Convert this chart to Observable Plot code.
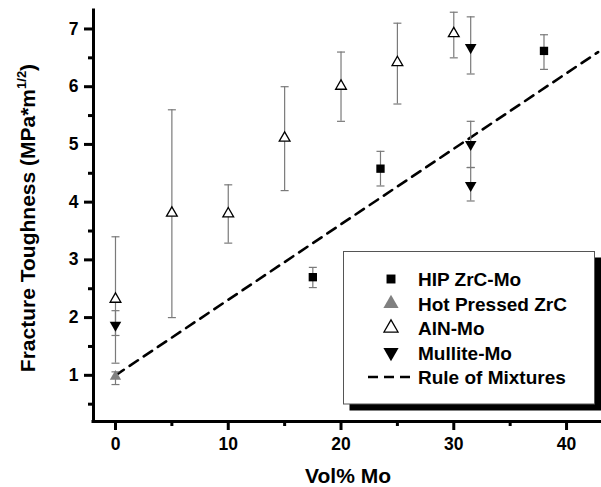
<!DOCTYPE html>
<html>
<head>
<meta charset="utf-8">
<script src="https://cdn.jsdelivr.net/npm/d3@7"></script>
<script src="https://cdn.jsdelivr.net/npm/@observablehq/plot@0.6"></script>
<style>
  html, body { margin: 0; padding: 0; background: white; }
  #chart { width: 601px; height: 487px; }
</style>
</head>
<body>
<div id="chart"></div>
<script>
// ---- data ----
const xTicks = [0, 10, 20, 30, 40];
const xMinor = [5, 15, 25, 35];
const yTicks = [1, 2, 3, 4, 5, 6, 7];
const yMinor = [0.5, 1.5, 2.5, 3.5, 4.5, 5.5, 6.5];

const hipX  = [17.5, 23.5, 38];
const hipY  = [2.70, 4.58, 6.62];
const hipLo = [2.52, 4.28, 6.30];
const hipHi = [2.87, 4.88, 6.90];

const hpX  = [0];
const hpY  = [0.98];
const hpLo = [0.84];
const hpHi = [1.06];

const alnX  = [0, 5, 10, 15, 20, 25, 30];
const alnY  = [2.32, 3.81, 3.80, 5.11, 6.01, 6.42, 6.92];
const alnLo = [1.21, 2.00, 3.29, 4.20, 5.40, 5.70, 6.50];
const alnHi = [3.40, 5.60, 4.30, 6.00, 6.60, 7.10, 7.29];

const mulX  = [0, 31.5, 31.5, 31.5];
const mulY  = [1.87, 6.68, 5.00, 4.29];
const mulLo = [1.69, 6.22, 4.60, 4.02];
const mulHi = [2.12, 7.21, 5.40, 4.60];

const romX = [0, 42.8];
const romY = [1.0, 6.6];

const legendLabels = ["HIP ZrC-Mo", "Hot Pressed ZrC", "AlN-Mo", "Mullite-Mo", "Rule of Mixtures"];
const xTitle = "Vol% Mo";
const yTitle = "Fracture Toughness (MPa*m";
const yTitleSup = "1/2";

// ---- helpers ----
const toRows = (xs, ys, lo, hi) => xs.map((x, i) => ({x, y: ys[i], lo: lo[i], hi: hi[i]}));
const hip = toRows(hipX, hipY, hipLo, hipHi);
const hp = toRows(hpX, hpY, hpLo, hpHi);
const aln = toRows(alnX, alnY, alnLo, alnHi);
const mul = toRows(mulX, mulY, mulLo, mulHi);
const all = [...hip, ...hp, ...aln, ...mul];
const caps = all.flatMap(d => [{x: d.x, y: d.lo}, {x: d.x, y: d.hi}]);
const rom = romX.map((x, i) => ({x, y: romY[i]}));

const capSymbol = { draw(ctx, size) { const r = Math.sqrt(size / Math.PI); ctx.moveTo(-r, 0); ctx.lineTo(r, 0); } };
const triDown = { draw(ctx, size) {
  const y = -Math.sqrt(size / (Math.sqrt(3) * 3));
  ctx.moveTo(0, -y * 2); ctx.lineTo(-Math.sqrt(3) * y, y); ctx.lineTo(Math.sqrt(3) * y, y); ctx.closePath();
} };

const xDom = [-1.95, 43.1];
const yDom = [0.2, 7.32];
const FONT = "'Liberation Sans', Arial, Helvetica, sans-serif";
const errColor = "#7a7a7a";

const chart = Plot.plot({
  width: 601, height: 487,
  marginLeft: 93, marginRight: 0, marginTop: 10, marginBottom: 66,
  x: {domain: xDom},
  y: {domain: yDom},
  style: {fontFamily: FONT, background: "white", color: "black"},
  marks: [
    Plot.axisX({ticks: xTicks, tickSize: 9, tickPadding: 7, fontSize: 17.5, fontWeight: "bold", strokeWidth: 3, label: null, tickFormat: d => d}),
    Plot.axisX({ticks: xMinor, tickSize: 5, strokeWidth: 3, text: null, label: null}),
    Plot.axisY({ticks: yTicks, tickSize: 9, tickPadding: 6, fontSize: 17.5, fontWeight: "bold", strokeWidth: 3, label: null, tickFormat: d => d}),
    Plot.axisY({ticks: yMinor, tickSize: 5, strokeWidth: 3, text: null, label: null}),
    Plot.ruleY([yDom[0]], {strokeWidth: 3, strokeLinecap: "square"}),
    Plot.ruleX([xDom[0]], {strokeWidth: 3, strokeLinecap: "square"}),
    // rule of mixtures
    Plot.line(rom, {x: "x", y: "y", stroke: "black", strokeWidth: 2.6, strokeDasharray: "10,7"}),
    // error bars
    Plot.ruleX(all, {x: "x", y1: "lo", y2: "hi", stroke: errColor, strokeWidth: 1.2}),
    Plot.dot(caps, {x: "x", y: "y", symbol: capSymbol, r: 4, stroke: errColor, strokeWidth: 1.2, fill: "none"}),
    // markers
    Plot.dot(hip, {x: "x", y: "y", symbol: "square", r: 4.7, fill: "black", stroke: "none"}),
    Plot.dot(hp, {x: "x", y: "y", symbol: "triangle", r: 4.2, fill: "#808080", stroke: "none"}),
    Plot.dot(aln, {x: "x", y: "y", symbol: "triangle", r: 4.0, fill: "white", stroke: "black", strokeWidth: 1.3}),
    Plot.dot(mul, {x: "x", y: "y", symbol: triDown, r: 4.3, fill: "black", stroke: "none"})
  ]
});

document.getElementById("chart").appendChild(chart);

// ---- titles & legend (layout) ----
const svg = d3.select(chart);
svg.append("text")
  .attr("x", 348).attr("y", 483)
  .attr("text-anchor", "middle")
  .attr("font-family", FONT).attr("font-weight", "bold").attr("font-size", 21)
  .attr("fill", "black")
  .text(xTitle);

const yt = svg.append("text")
  .attr("transform", "translate(35,218) rotate(-90)")
  .attr("text-anchor", "middle")
  .attr("font-family", FONT).attr("font-weight", "bold").attr("font-size", 21)
  .attr("fill", "black");
yt.append("tspan").text(yTitle);
yt.append("tspan").attr("font-size", 13).attr("dy", -9).text(yTitleSup);
yt.append("tspan").attr("dy", 9).text(")");

const lg = svg.append("g");
lg.append("rect").attr("x", 349.5).attr("y", 257.5).attr("width", 252).attr("height", 153).attr("fill", "black");
lg.append("rect").attr("x", 343.5).attr("y", 251.5).attr("width", 251).attr("height", 152.5)
  .attr("fill", "white").attr("stroke", "#555").attr("stroke-width", 1);

const rowY = [279, 303.5, 328, 352.5, 377];
const symX = 391;
const sym = (type, size) => d3.symbol(type, size)();
lg.append("path").attr("transform", `translate(${symX},${rowY[0]})`).attr("d", sym(d3.symbolSquare, 80)).attr("fill", "black");
lg.append("path").attr("transform", `translate(${symX},${rowY[1]})`).attr("d", sym(d3.symbolTriangle, 100)).attr("fill", "#808080");
lg.append("path").attr("transform", `translate(${symX},${rowY[2]})`).attr("d", sym(d3.symbolTriangle, 85)).attr("fill", "white").attr("stroke", "black").attr("stroke-width", 1.3);
lg.append("path").attr("transform", `translate(${symX},${rowY[3]}) rotate(180)`).attr("d", sym(d3.symbolTriangle, 100)).attr("fill", "black");
lg.append("line").attr("x1", 368).attr("x2", 410).attr("y1", rowY[4]).attr("y2", rowY[4])
  .attr("stroke", "black").attr("stroke-width", 2.6).attr("stroke-dasharray", "10,6");

legendLabels.forEach((t, i) => {
  lg.append("text").attr("x", 418).attr("y", rowY[i] + 7)
    .attr("text-anchor", "start")
    .attr("font-family", FONT).attr("font-weight", "bold").attr("font-size", 19)
    .attr("fill", "black").text(t);
});
</script>
</body>
</html>
